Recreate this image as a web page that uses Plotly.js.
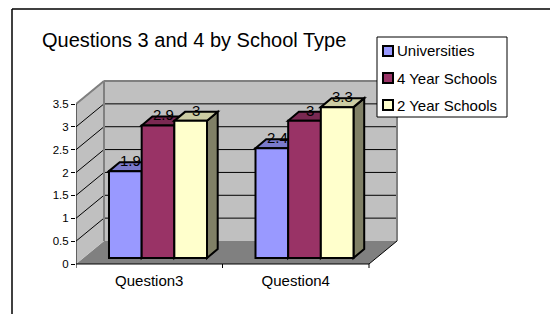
<!DOCTYPE html>
<html>
<head>
<meta charset="utf-8">
<script src="https://cdn.plot.ly/plotly-3.0.1.min.js"></script>
<style>html,body{margin:0;padding:0;background:#fff;}#chart{width:550px;height:314px;}</style>
</head>
<body>
<div id="chart"></div>
<script>
// ---- data ----
var categories = ["Question3", "Question4"];
var seriesNames = ["Universities", "4 Year Schools", "2 Year Schools"];
var universities = [1.9, 2.4];
var fourYear = [2.9, 3];
var twoYear = [3, 3.3];
var yTickVals = [0, 0.5, 1, 1.5, 2, 2.5, 3, 3.5];
var yTickText = ["0", "0.5", "1", "1.5", "2", "2.5", "3", "3.5"];
var titleText = "Questions 3 and 4 by School Type";

// ---- styles / geometry ----
var seriesValues = [universities, fourYear, twoYear];
var frontColors = ["#9999FF", "#993366", "#FFFFCC"];
var topColors = ["#7A7ACC", "#7A2952", "#CCCCA3"];
var sideColors = ["#4D4D80", "#4D1A33", "#808066"];
var FONT = '"Liberation Sans", Arial, sans-serif';

var L = 76, R = 410, T = 60, B = 270, W = 550, H = 314;
var pxX = 146.5;   // px per category unit
var pxY = 45.714;  // px per value unit
var y0px = 264;    // pixel of value 0 on front plane
var xr = [-0.5, -0.5 + (R - L) / pxX];
var yr = [-(B - y0px) / pxY, (y0px - T) / pxY];
var yMax = 3.5;
var dxW = 28 / pxX, dyW = 23 / pxY;            // wall depth
var shift = 8.75 / pxX, baseOff = 6 / pxY;     // bar placement depth
var barW = 32.67 / pxX;
var ddx = 10.7 / pxX, ddy = 9 / pxY;           // bar depth
function PX(px) { return (px - L) / (R - L); }
function PY(py) { return (B - py) / (B - T); }

var shapes = [];
var annotations = [];
function poly(pts, fill, lineColor, lw, layer) {
  var d = pts.map(function (p, i) { return (i ? "L" : "M") + p[0] + "," + p[1]; }).join(" ") + " Z";
  shapes.push({type: "path", xref: "x", yref: "y", path: d, fillcolor: fill,
    line: {color: lineColor, width: lw}, layer: layer || "below"});
}
function seg(x0, y0, x1, y1, color, w, layer) {
  shapes.push({type: "line", xref: "x", yref: "y", x0: x0, y0: y0, x1: x1, y1: y1,
    line: {color: color, width: w}, layer: layer || "below"});
}
var xL = -0.5, xRt = -0.5 + categories.length;
// floor
poly([[xL, 0], [xRt, 0], [xRt + dxW, dyW], [xL + dxW, dyW]], "#808080", "rgba(0,0,0,0)", 0);
// left wall
poly([[xL, 0], [xL + dxW, dyW], [xL + dxW, yMax + dyW], [xL, yMax]], "#C0C0C0", "rgba(0,0,0,0)", 0);
// back wall
poly([[xL + dxW, dyW], [xRt + dxW, dyW], [xRt + dxW, yMax + dyW], [xL + dxW, yMax + dyW]], "#C0C0C0", "rgba(0,0,0,0)", 0);
// gridlines + diagonals
yTickVals.forEach(function (v) {
  if (v > 0) {
    seg(xL + dxW, v + dyW, xRt + dxW, v + dyW, "#000000", 1);
    seg(xL, v, xL + dxW, v + dyW, "#000000", 1);
  }
});
// wall edges
seg(xL, yMax, xL + dxW, yMax + dyW, "#808080", 2);
seg(xL + dxW, yMax + dyW, xRt + dxW, yMax + dyW, "#808080", 2);
seg(xRt + dxW, yMax + dyW, xRt + dxW, dyW, "#808080", 2);
seg(xL + dxW, yMax + dyW, xL + dxW, dyW, "#808080", 2);
// floor edges and axis lines
seg(xRt, 0, xRt + dxW, dyW, "#000000", 1);
seg(xL, 0, xRt, 0, "#000000", 1);
seg(xL, 0, xL, yMax, "#000000", 1);
for (var t = 0; t <= categories.length; t++) {
  seg(xL + t, 0, xL + t, -4 / pxY, "#000000", 1);
}

// bars
var traces = [];
seriesValues.forEach(function (vals, k) {
  var off = (k - 1.5) * barW;
  traces.push({
    type: "bar", name: seriesNames[k],
    x: categories.map(function (c, i) { return i + shift; }),
    y: vals, base: baseOff, width: barW, offset: off,
    marker: {color: frontColors[k], line: {color: "#000000", width: 2}},
    showlegend: false, hoverinfo: "y+name"
  });
  vals.forEach(function (v, i) {
    var xl = i + shift + off, xr2 = xl + barW, b0 = baseOff, b1 = baseOff + v;
    poly([[xr2, b0], [xr2 + ddx, b0 + ddy], [xr2 + ddx, b1 + ddy], [xr2, b1]], sideColors[k], "#000000", 2, "between");
    poly([[xl, b1], [xl + ddx, b1 + ddy], [xr2 + ddx, b1 + ddy], [xr2, b1]], topColors[k], "#000000", 2, "between");
    annotations.push({xref: "x", yref: "y", x: (xl + xr2) / 2 + ddx / 2, y: b1,
      text: String(v), showarrow: false, yanchor: "bottom", xanchor: "center",
      font: {family: FONT, size: 15, color: "#000000"}});
  });
});

// outer frame
shapes.push({type: "line", xref: "paper", yref: "paper", x0: PX(12), y0: PY(9), x1: PX(W + 5), y1: PY(9), line: {color: "#000", width: 1.5}, layer: "above"});
shapes.push({type: "line", xref: "paper", yref: "paper", x0: PX(12), y0: PY(9), x1: PX(12), y1: PY(H + 5), line: {color: "#000", width: 1.5}, layer: "above"});

// legend (custom)
shapes.push({type: "rect", xref: "paper", yref: "paper", x0: PX(377), y0: PY(37), x1: PX(507), y1: PY(117),
  fillcolor: "#FFFFFF", line: {color: "#000000", width: 1}, layer: "above"});
seriesNames.forEach(function (n, k) {
  var cy = 51 + 27 * k;
  shapes.push({type: "rect", xref: "paper", yref: "paper", x0: PX(383), y0: PY(cy - 5), x1: PX(393), y1: PY(cy + 5),
    fillcolor: frontColors[k], line: {color: "#000000", width: 2}, layer: "above"});
  annotations.push({xref: "paper", yref: "paper", x: PX(395), y: PY(cy), text: n, showarrow: false,
    xanchor: "left", yanchor: "middle", font: {family: FONT, size: 15, color: "#000000"}});
});

var layout = {
  width: W, height: H,
  margin: {l: L, r: W - R, t: T, b: H - B, pad: 0},
  paper_bgcolor: "#FFFFFF", plot_bgcolor: "rgba(0,0,0,0)",
  barmode: "overlay",
  title: {text: titleText, font: {family: FONT, size: 20, color: "#000000"},
    xref: "container", yref: "container", x: 42 / W, xanchor: "left", y: 1 - 40 / H, yanchor: "middle"},
  xaxis: {range: xr, tickvals: categories.map(function (c, i) { return i; }), ticktext: categories,
    ticks: "", showgrid: false, zeroline: false, showline: false, fixedrange: true,
    tickfont: {family: FONT, size: 15, color: "#000000"}},
  yaxis: {range: yr, tickvals: yTickVals, ticktext: yTickText, ticks: "outside", ticklen: 4,
    tickcolor: "#000000", tickwidth: 1, showgrid: false, zeroline: false, showline: false, fixedrange: true,
    tickfont: {family: FONT, size: 11.5, color: "#000000"}},
  shapes: shapes, annotations: annotations,
  showlegend: false
};
Plotly.newPlot("chart", traces, layout, {displayModeBar: false, staticPlot: true});
</script>
</body>
</html>
